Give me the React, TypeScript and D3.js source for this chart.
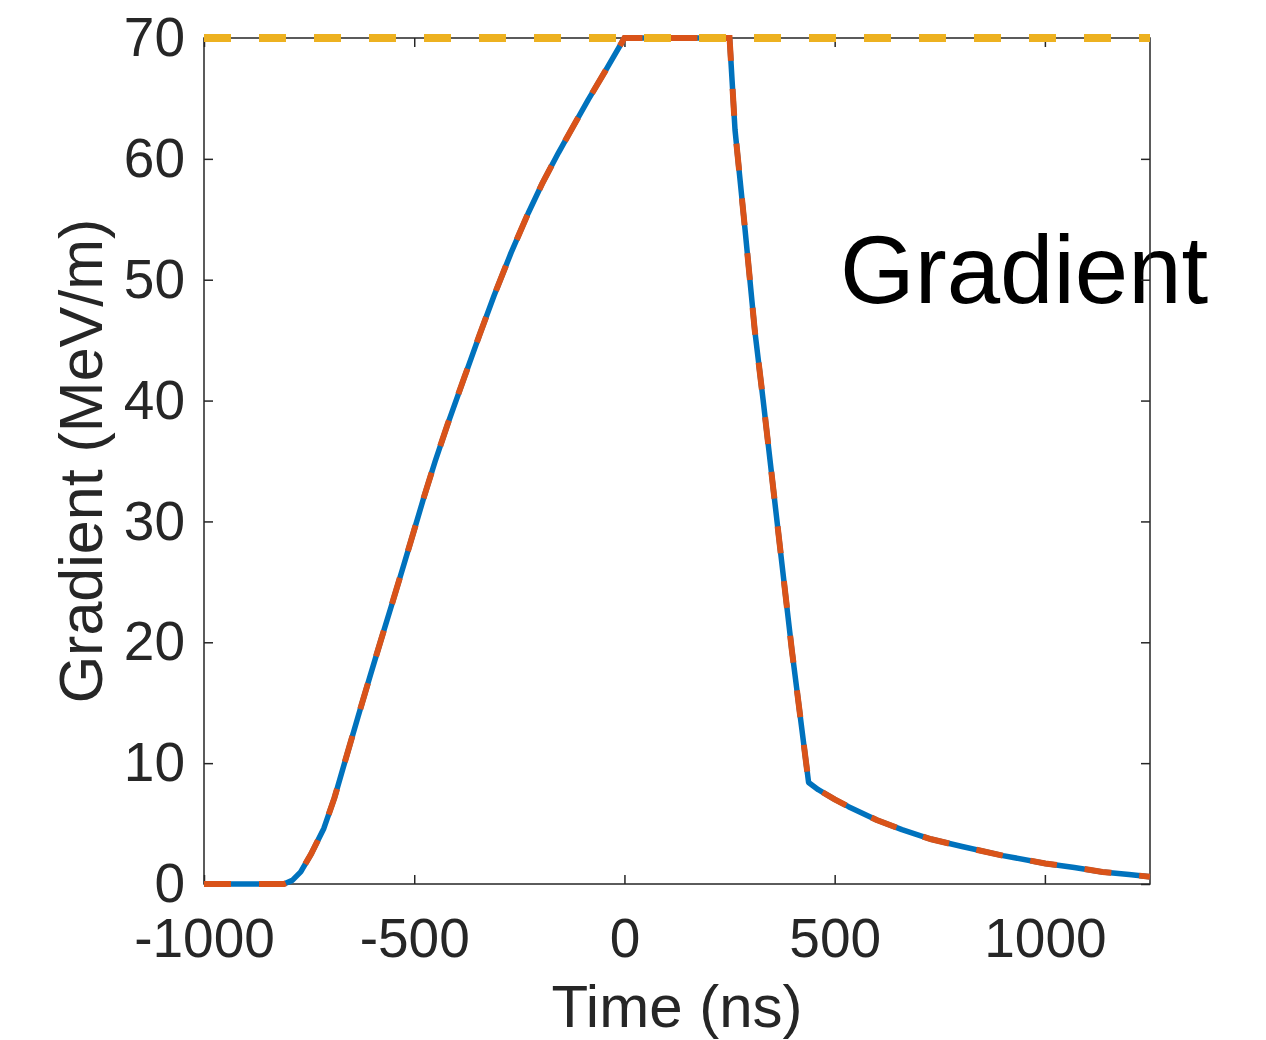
import React, {useRef, useEffect} from 'react'
import * as d3 from 'd3'

// time samples (ns)
const timeNs = [-1000, -900, -810, -790, -770, -745, -715, -690, -665, -634, -605, -579, -550, -524, -500,
  -477, -450, -420, -381, -345, -310, -270, -229, -195, -157, -120, -86, -45, 0, 250, 263, 287, 310, 330,
  357, 398, 438, 461, 500, 533, 600, 660, 730, 803, 900, 1001, 1070, 1137, 1200, 1250]

// blue solid curve (MeV/m)
const gradSim = [0, 0, 0, 0.3, 1.0, 2.5, 4.6, 7.1, 10.1, 13.8, 17.2, 20.2, 23.5, 26.5, 29.3,
  32.0, 35.0, 38.1, 41.9, 45.4, 48.7, 52.2, 55.5, 58.0, 60.5, 62.8, 64.9, 67.3, 70, 70, 62.4, 54.1, 45.8, 40.0,
  31.8, 19.4, 8.4, 7.8, 7.0, 6.4, 5.3, 4.5, 3.7, 3.1, 2.35, 1.7, 1.37, 1.0, 0.78, 0.6]

// orange dashed curve sits right on top of the blue one
const gradModel = [0, 0, 0, 0.3, 1.0, 2.5, 4.6, 7.1, 10.1, 13.8, 17.2, 20.2, 23.5, 26.5, 29.3,
  32.0, 35.0, 38.1, 41.9, 45.4, 48.7, 52.2, 55.5, 58.0, 60.5, 62.8, 64.9, 67.3, 70, 70, 62.4, 54.1, 45.8, 40.0,
  31.8, 19.4, 8.4, 7.8, 7.0, 6.4, 5.3, 4.5, 3.7, 3.1, 2.35, 1.7, 1.37, 1.0, 0.78, 0.6]

// yellow dashed limit line
const limitTime = [-1000, 1250]
const limitGrad = [70, 70]

const xTicks = [-1000, -500, 0, 500, 1000]
const yTicks = [0, 10, 20, 30, 40, 50, 60, 70]

const layout = {width: 1266, height: 1040, left: 204, right: 1150, top: 38, bottom: 884}
const font = "'Liberation Sans', Arial, Helvetica, sans-serif"
const axisColor = "#262626"

export default function App() {
  const ref = useRef(null)

  useEffect(() => {
    const svg = d3.select(ref.current)
    svg.selectAll("*").remove()

    const x = d3.scaleLinear().domain([-1000, 1250]).range([layout.left, layout.right])
    const y = d3.scaleLinear().domain([0, 70]).range([layout.bottom, layout.top])

    // annotation text (sits under the axes)
    svg.append("text")
      .attr("x", 840)
      .attr("y", 303)
      .attr("font-family", font)
      .attr("font-size", 96)
      .attr("fill", "black")
      .text("Gradient")

    const styleAxis = g => {
      g.select(".domain").remove()
      g.selectAll(".tick line").attr("stroke", axisColor).attr("stroke-width", 1.5)
      g.selectAll(".tick text").attr("fill", axisColor).attr("font-family", font).attr("font-size", 55)
    }
    const plain = d => String(d)

    svg.append("g")
      .attr("transform", `translate(0, ${layout.bottom})`)
      .call(d3.axisBottom(x).tickValues(xTicks).tickSizeInner(-9).tickSizeOuter(0).tickPadding(34).tickFormat(plain))
      .call(styleAxis)

    svg.append("g")
      .attr("transform", `translate(0, ${layout.top})`)
      .call(d3.axisTop(x).tickValues(xTicks).tickSizeInner(-9).tickSizeOuter(0).tickFormat(() => ""))
      .call(styleAxis)

    svg.append("g")
      .attr("transform", `translate(${layout.left}, 0)`)
      .call(d3.axisLeft(y).tickValues(yTicks).tickSizeInner(-9).tickSizeOuter(0).tickPadding(19).tickFormat(plain))
      .call(styleAxis)

    svg.append("g")
      .attr("transform", `translate(${layout.right}, 0)`)
      .call(d3.axisRight(y).tickValues(yTicks).tickSizeInner(-9).tickSizeOuter(0).tickFormat(() => ""))
      .call(styleAxis)

    svg.append("rect")
      .attr("x", layout.left)
      .attr("y", layout.top)
      .attr("width", layout.right - layout.left)
      .attr("height", layout.bottom - layout.top)
      .attr("fill", "none")
      .attr("stroke", axisColor)
      .attr("stroke-width", 1.5)

    const line = d3.line().x(d => x(d[0])).y(d => y(d[1]))

    svg.append("path")
      .datum(timeNs.map((t, i) => [t, gradSim[i]]))
      .attr("d", line)
      .attr("fill", "none")
      .attr("stroke", "#0072BD")
      .attr("stroke-width", 5.5)
      .attr("stroke-linejoin", "round")

    svg.append("path")
      .datum(timeNs.map((t, i) => [t, gradModel[i]]))
      .attr("d", line)
      .attr("fill", "none")
      .attr("stroke", "#D95319")
      .attr("stroke-width", 6)
      .attr("stroke-dasharray", "27 28")

    svg.append("path")
      .datum(limitTime.map((t, i) => [t, limitGrad[i]]))
      .attr("d", line)
      .attr("fill", "none")
      .attr("stroke", "#EDB120")
      .attr("stroke-width", 8)
      .attr("stroke-dasharray", "27 28")

    // axis titles
    svg.append("text")
      .attr("x", (layout.left + layout.right) / 2)
      .attr("y", 1027)
      .attr("text-anchor", "middle")
      .attr("font-family", font)
      .attr("font-size", 60)
      .attr("fill", axisColor)
      .text("Time (ns)")

    svg.append("text")
      .attr("transform", `translate(102, ${(layout.top + layout.bottom) / 2}) rotate(-90)`)
      .attr("text-anchor", "middle")
      .attr("font-family", font)
      .attr("font-size", 61)
      .attr("fill", axisColor)
      .text("Gradient (MeV/m)")
  }, [])

  return (
    <svg ref={ref} width={layout.width} height={layout.height}
         style={{position: "absolute", left: 0, top: 0, background: "white"}} />
  )
}
